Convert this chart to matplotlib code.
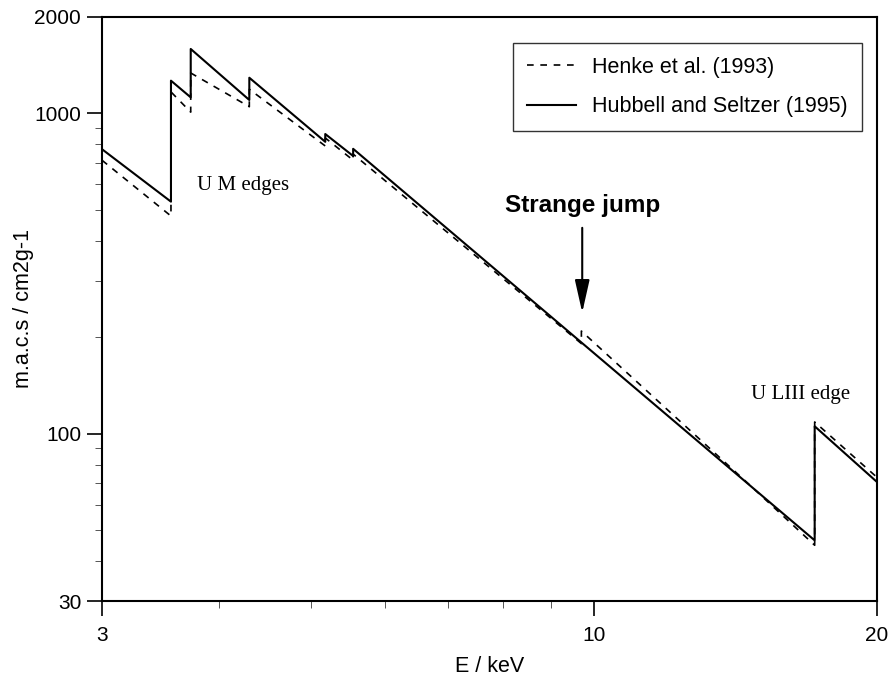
import matplotlib.pyplot as plt
from matplotlib.ticker import FixedLocator, NullFormatter

# Hubbell and Seltzer (1995): energies (keV) and m.a.c.s (cm2/g), edges as repeated energies
hub_e = [3.0, 3.552, 3.552, 3.728, 3.728, 4.303, 4.303, 5.182, 5.182, 5.548, 5.548, 17.17, 17.17, 20.0]
hub_mu = [773, 530, 1265, 1122, 1589, 1101, 1292, 815, 862, 736, 775, 46.4, 105.4, 70.6]

# Henke et al. (1993)
hen_e = [3.0, 3.552, 3.552, 3.728, 3.728, 4.303, 4.303, 5.182, 5.182, 5.548, 5.548, 9.70, 9.70, 14.5, 17.17, 17.17, 20.0]
hen_mu = [714, 478, 1167, 1009, 1337, 1049, 1189, 791, 838, 714, 746, 191, 209, 71, 44.8, 108.7, 73]

plt.rcParams['font.family'] = 'Liberation Sans'

fig = plt.figure(figsize=(8.96, 6.76), dpi=100)
ax = fig.add_axes([0.1138, 0.1109, 0.865, 0.864])

ax.plot(hen_e, hen_mu, color='black', ls=(0, (4, 4)), lw=1.2, label='Henke et al. (1993)')
ax.plot(hub_e, hub_mu, color='black', ls='-', lw=1.5, label='Hubbell and Seltzer (1995)')

ax.set_xscale('log')
ax.set_yscale('log')
ax.set_xlim(3, 20)
ax.set_ylim(30, 2000)

ax.xaxis.set_major_locator(FixedLocator([3, 10, 20]))
ax.xaxis.set_minor_locator(FixedLocator([4, 5, 6, 7, 8, 9]))
ax.set_xticklabels(['3', '10', '20'])
ax.xaxis.set_minor_formatter(NullFormatter())
ax.yaxis.set_major_locator(FixedLocator([30, 100, 1000, 2000]))
ax.yaxis.set_minor_locator(FixedLocator([40, 50, 60, 70, 80, 90, 200, 300, 400, 500, 600, 700, 800, 900]))
ax.set_yticklabels(['30', '100', '1000', '2000'])
ax.yaxis.set_minor_formatter(NullFormatter())

ax.tick_params(which='major', direction='out', length=11, width=1.2, labelsize=15, pad=4)
ax.tick_params(axis='x', which='major', pad=7)
ax.tick_params(which='minor', direction='out', length=5, width=0.7, color='#555555')
for s in ax.spines.values():
    s.set_linewidth(1.5)

ax.set_xlabel('E / keV', fontsize=15.5, labelpad=8)
ax.set_ylabel('m.a.c.s / cm2g-1', fontsize=15.5, labelpad=0)

leg = ax.legend(loc='upper right', bbox_to_anchor=(0.9806, 0.9555), fontsize=15.5, frameon=True,
                fancybox=False, edgecolor='black', handlelength=2.3, borderpad=0.65,
                labelspacing=0.85, handletextpad=0.75, borderaxespad=0)
leg.get_frame().set_linewidth(1.0)

ax.text(4.24, 597, 'U M edges', family='Liberation Serif', fontsize=15, ha='center', va='center')
ax.text(16.6, 132, 'U LIII edge', family='Liberation Serif', fontsize=15, ha='center', va='center')
ax.text(9.72, 517, 'Strange jump', fontsize=17.5, fontweight='bold', ha='center', va='center')
ax.annotate('', xy=(9.72, 234), xytext=(9.72, 448),
            arrowprops=dict(arrowstyle='-|>,head_length=2.0,head_width=0.45', color='black', lw=1.5))

fig.savefig('out.png', dpi=100)
